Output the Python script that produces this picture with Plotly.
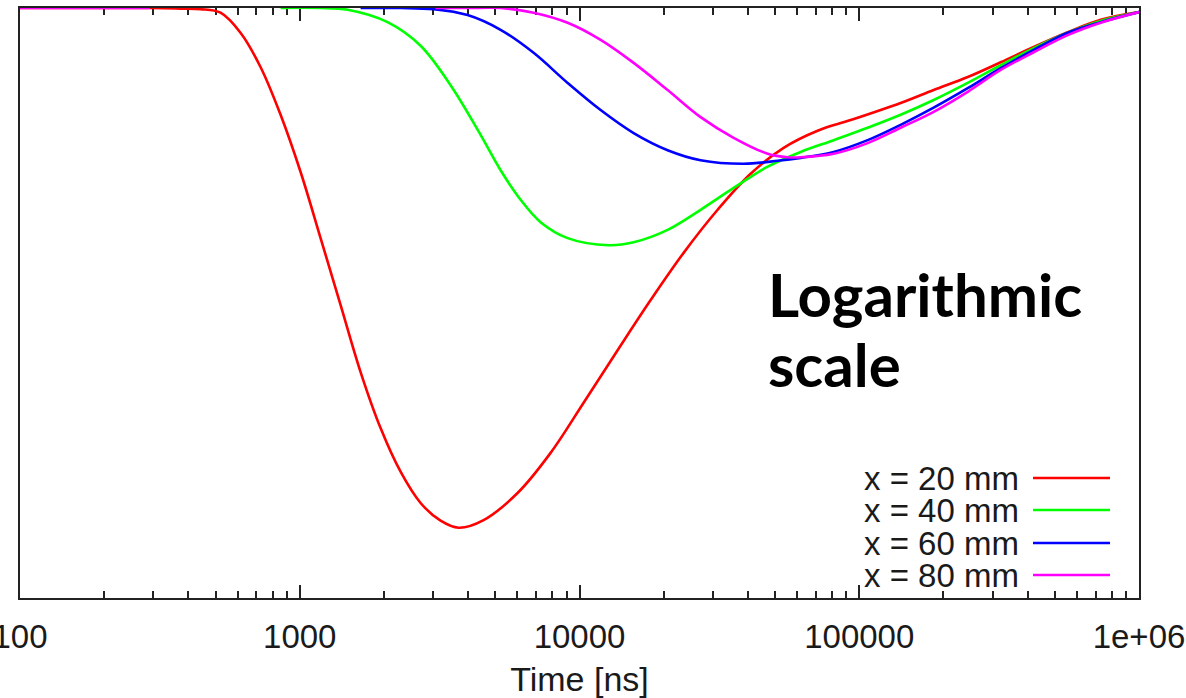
import plotly.graph_objects as go

# Time samples [ns] and normalised signal for each probe distance
t_20 = [100, 293, 375, 442, 521, 614, 724, 854, 1007, 1187, 1399, 1650, 1945, 2293, 2704, 3187,
        3697, 4541, 6006, 7883, 10345, 13685, 17960, 23560, 31170, 40900, 53660, 71000, 93180,
        140600, 184500, 244200, 320300, 420300, 556100, 729600, 1000000]
s_20 = [1.0, 1.0, 0.999, 0.998, 0.992, 0.958, 0.900, 0.819, 0.722, 0.610, 0.497, 0.383, 0.288,
        0.214, 0.161, 0.131, 0.119, 0.132, 0.178, 0.246, 0.331, 0.420, 0.505, 0.585, 0.658,
        0.719, 0.763, 0.792, 0.810, 0.839, 0.861, 0.883, 0.908, 0.934, 0.959, 0.980, 0.993]

t_40 = [854, 1187, 1483, 2060, 2704, 3461, 4430, 5224, 6157, 7261, 9069, 12710, 15615, 20654,
        27100, 35560, 47040, 61740, 81000, 107150, 140600, 184500, 244200, 320300, 420300, 556100,
        729600, 1000000]
s_40 = [1.0, 1.0, 0.997, 0.976, 0.936, 0.869, 0.785, 0.725, 0.675, 0.637, 0.610, 0.598, 0.603,
        0.624, 0.658, 0.695, 0.731, 0.756, 0.776, 0.797, 0.819, 0.844, 0.873, 0.903, 0.932, 0.958,
        0.978, 0.993]

t_60 = [1650, 2293, 3009, 3981, 5224, 6854, 9069, 11900, 15615, 20654, 27100, 38610, 51090, 61740,
        81000, 107150, 140600, 184500, 244200, 320300, 420300, 556100, 729600, 1000000]
s_60 = [1.0, 1.0, 0.998, 0.988, 0.963, 0.924, 0.873, 0.827, 0.788, 0.759, 0.742, 0.736, 0.741,
        0.746, 0.756, 0.776, 0.802, 0.831, 0.864, 0.898, 0.929, 0.958, 0.976, 0.993]

t_80 = [3059, 3981, 5224, 6854, 9069, 11900, 15615, 20654, 27100, 35560, 47040, 55460, 61740,
        81000, 107150, 140600, 184500, 244200, 320300, 420300, 556100, 729600, 1000000]
s_80 = [1.0, 1.0, 1.0, 0.992, 0.975, 0.946, 0.907, 0.861, 0.815, 0.780, 0.753, 0.747, 0.747,
        0.753, 0.771, 0.797, 0.824, 0.858, 0.895, 0.925, 0.954, 0.975, 0.993]
# short early stretch of the 80 mm record (baseline before the gap)
t_80_early = [100, 290]
s_80_early = [1.0, 1.0]

labels = ["x = 20 mm", "x = 40 mm", "x = 60 mm", "x = 80 mm"]
colors = ["#ff0000", "#00ff00", "#0000ff", "#ff00ff"]

tick_vals = [100, 1000, 10000, 100000, 1000000]
tick_text = ["100", "1000", "10000", "100000", "1e+06"]
minor_vals = [m * 10 ** d for d in range(2, 6) for m in range(2, 10)]

FONT = "Liberation Sans, Arial, sans-serif"
TXT = "#1a1a1a"

fig = go.Figure()
series = [(t_20, s_20), (t_40, s_40), (t_60, s_60), (t_80, s_80)]
for (t, s), name, col in zip(series, labels, colors):
    fig.add_trace(go.Scatter(x=t, y=s, mode="lines", name=name,
                             line=dict(color=col, width=2.6, shape="spline", smoothing=1.0),
                             showlegend=False))
fig.add_trace(go.Scatter(x=t_80_early, y=s_80_early, mode="lines",
                         line=dict(color=colors[3], width=2.6), showlegend=False,
                         hoverinfo="skip"))

# gnuplot-style key: right-aligned text followed by a line sample
L, R, T, B = 20, 47, 8, 100
W, H = 1186, 698
pw, ph = W - L - R, H - T - B


def px_x(px):
    return (px - L) / pw


def px_y(py):
    return (H - B - py) / ph


key_rows = [478, 510, 543, 575]
for name, col, py in zip(labels, colors, key_rows):
    fig.add_annotation(x=px_x(1021), y=px_y(py), xref="paper", yref="paper",
                       text=name, showarrow=False, xanchor="right", yanchor="middle",
                       height=31, valign="middle",
                       font=dict(family=FONT, size=33, color=TXT))
    fig.add_shape(type="line", xref="paper", yref="paper",
                  x0=px_x(1033), x1=px_x(1110), y0=px_y(py), y1=px_y(py),
                  line=dict(color=col, width=2.6))

NOTE_FONT = dict(family="Lato, Open Sans, sans-serif", size=60, color="#000000")
fig.add_annotation(x=px_x(766), y=px_y(332), xref="paper", yref="paper",
                   text="<b>Logarithmic</b>", showarrow=False, xanchor="left", yanchor="bottom",
                   font=NOTE_FONT)
fig.add_annotation(x=px_x(766), y=px_y(402), xref="paper", yref="paper",
                   text="<b>scale</b>", showarrow=False, xanchor="left", yanchor="bottom",
                   font=NOTE_FONT)

fig.update_layout(
    width=W, height=H,
    margin=dict(l=L, r=R, t=T, b=B, pad=0, autoexpand=False),
    paper_bgcolor="white", plot_bgcolor="white",
    xaxis=dict(
        type="log", range=[2, 6], automargin=False,
        tickvals=tick_vals, ticktext=tick_text,
        ticks="inside", ticklen=13, tickwidth=1.5, tickcolor="#222",
        minor=dict(tickvals=minor_vals, ticks="inside", ticklen=7, tickwidth=1.5, tickcolor="#222"),
        showline=True, linecolor="#222", linewidth=1.8, mirror="allticks",
        showgrid=False, zeroline=False, layer="below traces",
        tickfont=dict(family=FONT, size=33, color=TXT),
        ticklabelstandoff=8, ticklabeloverflow="allow",
        title=dict(text="Time [ns]", standoff=14,
                   font=dict(family=FONT, size=34, color=TXT)),
    ),
    yaxis=dict(
        range=[0, 1.0], showticklabels=False, ticks="", automargin=False,
        showline=True, linecolor="#222", linewidth=1.8, mirror=True,
        showgrid=False, zeroline=False, layer="below traces",
    ),
)

fig.write_html("out.html")
